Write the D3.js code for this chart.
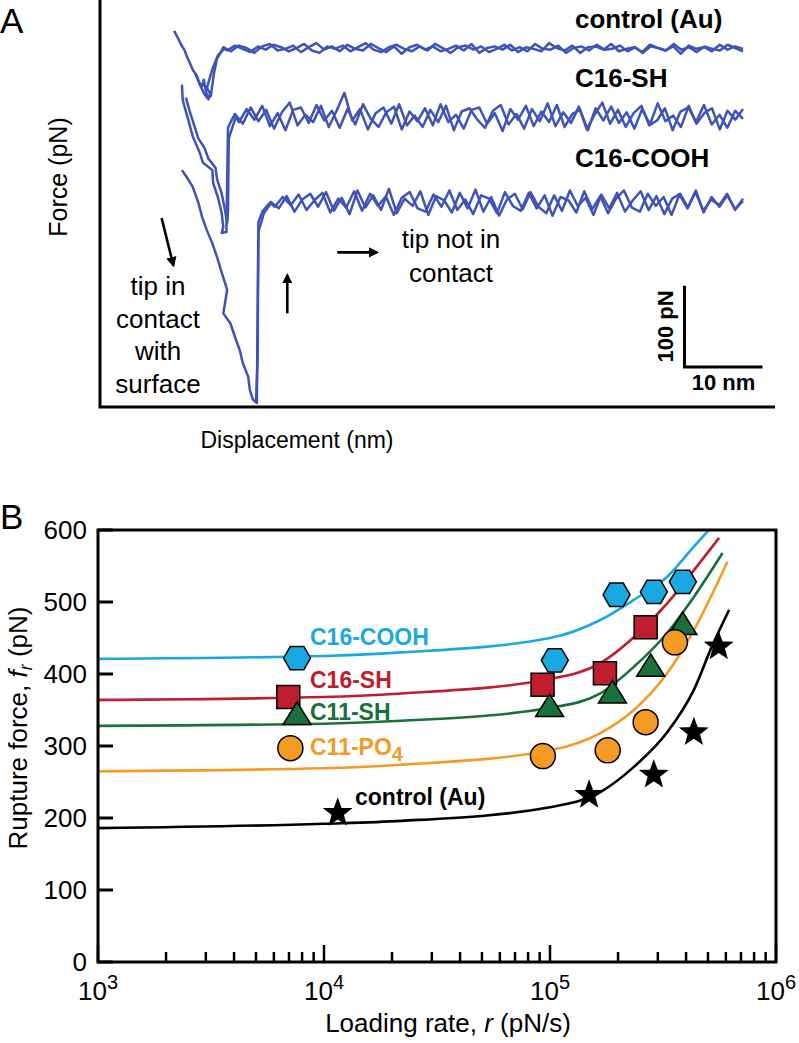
<!DOCTYPE html>
<html lang="en">
<head>
<meta charset="UTF-8">
<title>AFM force curves and rupture force vs loading rate</title>
<script src="https://d3js.org/d3.v7.min.js"></script>
<style>
  body { margin: 0; background: #fff; }
  svg { display: block; font-family: "Liberation Sans", Arial, sans-serif; }
  .trace { fill: none; stroke: #3f53b8; stroke-width: 2.5px; stroke-linejoin: round; }
  .axis-line { fill: none; stroke: #000; stroke-width: 3px; }
  .fit { fill: none; stroke-width: 2.6px; }
  .mark { stroke: #000; stroke-width: 1.5px; }
</style>
</head>
<body>
<svg width="799" height="1043"></svg>
<script>
// ---------- panel A data (displacement nm, stacked force pN) ----------
const flatEnd = 82.4;

const controlBase = 440;
const controlSlopeA = [[9.5,462],[10.0,453],[10.4,445],[10.8,439],[11.2,429],[11.5,423],[11.9,414],[12.4,407],[12.7,399],[13.1,394],[13.3,402],[13.6,387],[13.8,380],[14.2,382],[14.6,410],[15.0,428],[15.5,436]];
const controlSlopeB = [[12.2,410],[12.8,396],[13.4,384],[13.9,378],[14.1,385],[13.7,392],[14.4,415],[15.1,432],[15.9,440]];
const controlNoiseA = [2,-3,4,1,-5,3,6,-2,0,4,-4,2,7,-1,3,-3,5,0,-2,6,1,-4,3,-6,2,5,-1,3,-3,0,4,-2,6,-5,1,3,-1,5,-4,2,0,-3,7,1,-2,4,-5,2,3,-1,6,-3,0,2,-4,5,1,-2,3,-6,4,0,2,-3,5,-1,3,0];
const controlNoiseB = [-2,4,0,-4,3,-1,5,2,-3,1,6,-2,-5,3,0,4,-3,2,7,-1,-4,2,5,0,-3,3,-2,6,1,-5,2,4,-1,3,-4,0,5,-2,2,-3,6,0,-1,4,-5,1,3,-2,5,-1,0,4,-3,2,-5,3,1,-2,6,-1,2,-4,3,0,-2,5,1,-3];

const sh16Base = 356;
const sh16SlopeA = [[10.5,396],[10.6,377],[11.3,353],[11.9,332],[12.8,312],[13.2,300],[14.4,291],[14.5,275],[15.1,258],[15.6,238],[15.8,221],[15.6,214],[16.2,215],[16.4,343],[16.9,353]];
const sh16SlopeB = [[11.0,380],[11.6,360],[12.1,345],[12.6,330],[13.4,318],[13.9,305],[14.8,294],[15.0,280],[15.6,262],[16.0,243],[16.3,226],[16.4,240],[16.5,330],[17.4,356]];
const sh16NoiseA = [4,-8,12,-5,9,-14,6,18,-10,3,-6,14,-12,8,30,-4,10,-15,5,12,-8,16,-10,2,-12,9,-6,14,-16,7,11,-3,-13,8,15,-9,4,-14,10,-5,17,-11,6,-7,13,-15,3,18,-8,9,-12,5,14,-10,-4,11,-16,7,12,-6,15,-9,3,-13,8,-2];
const sh16NoiseB = [-6,10,-3,14,-11,5,-16,9,12,-7,15,-4,8,-13,10,-9,16,-2,-12,6,13,-15,7,-5,11,-10,16,-6,3,-14,9,12,-8,5,-17,10,-3,14,-11,7,-6,15,-12,4,9,-16,11,-4,13,-7,6,-14,10,-9,17,-5,2,-12,14,-8,5,11,-15,8,-3,10];

const coohBase = 250;
const coohSlopeA = [[10.5,291],[11.2,281],[11.9,270],[12.6,251],[13.1,233],[13.7,217],[14.4,201],[15.0,184],[15.6,165],[16.3,144],[15.8,115],[16.7,103],[17.3,86],[17.9,70],[18.3,54],[19.0,37],[19.2,21],[19.6,9],[20.1,5],[20.3,227],[20.8,240],[21.5,248]];
const coohSlopeB = [[20.0,8],[20.2,60],[20.3,215],[21.0,238],[21.9,250]];
const coohNoiseA = [2,-6,9,-10,5,12,-4,14,-9,7,-13,16,-5,10,-8,18,-12,6,-3,15,-14,9,4,-11,13,-6,17,-10,8,-15,5,12,-7,14,-4,-12,10,-9,16,-3,7,-14,11,-6,13,-10,4,15,-8,9,-13,6,12,-5,16,-11,8,-4,10,-7,3];
const coohNoiseB = [-4,8,-2,11,-8,4,13,-11,6,-5,15,-9,12,-3,9,-14,7,14,-6,-10,11,-4,16,-8,5,-13,10,6,-12,14,-3,-9,13,-6,10,-15,8,4,-11,15,-7,9,-12,6,16,-5,-10,12,-3,8,-14,11,-6,14,-9,5,-2,12,-8,6];

const traceLabels = ["control (Au)", "C16-SH", "C16-COOH"];

// annotation arrows, [from, to] in nm / pN
const arrows = [
  [[7.9, 232], [9.4, 174]],
  [[24.0, 115], [24.0, 162]],
  [[30.4, 190], [35.5, 190]]
];

// ---------- panel B data (loading rate pN/s, rupture force pN) ----------
const seriesNames = ["C16-COOH", "C16-SH", "C11-SH", "C11-PO4", "control (Au)"];
const seriesColors = ["#19a9e1", "#bf1e2e", "#18703c", "#f49a25", "#000000"];
const seriesShapes = ["hexagon", "square", "triangle", "circle", "star"];

const coohPoints = [[7.6e3,422],[1.05e5,419],[1.97e5,510],[2.88e5,514],[3.87e5,528]];
const sh16Points = [[6.95e3,368],[9.27e4,385],[1.75e5,401],[2.65e5,465]];
const sh11Points = [[7.6e3,343],[9.96e4,354],[1.89e5,373],[2.79e5,410],[3.87e5,468]];
const po4Points  = [[7.1e3,297],[9.3e4,286],[1.8e5,294],[2.65e5,333],[3.57e5,444]];
const ctrlPoints = [[1.15e4,207],[1.49e5,232],[2.88e5,260],[4.33e5,319],[5.58e5,438]];

const coohFit = [[1e3,421],[1e4,425],[2.2e4,430],[1e5,450],[1.67e5,475],[2.35e5,503],[3.3e5,535],[4.33e5,577],[5.05e5,600]];
const sh16Fit = [[1e3,364],[1e4,368],[2.2e4,373],[1e5,393],[1.67e5,415],[2.35e5,451],[3.3e5,498],[4.33e5,544],[5.6e5,589]];
const sh11Fit = [[1e3,328],[1e4,331],[2.2e4,335],[1e5,353],[1.67e5,373],[2.35e5,410],[3.3e5,457],[4.33e5,507],[5.8e5,568]];
const po4Fit  = [[1e3,265],[1e4,269],[2.2e4,274],[1e5,294],[1.67e5,318],[2.35e5,350],[3.3e5,401],[4.33e5,461],[6.1e5,556]];
const ctrlFit = [[1e3,186],[1e4,192],[2.2e4,196],[1e5,215],[1.67e5,236],[2.35e5,271],[3.3e5,319],[4.33e5,378],[5.2e5,438],[6.2e5,489]];

const allPoints = [coohPoints, sh16Points, sh11Points, po4Points, ctrlPoints];
const allFits = [coohFit, sh16Fit, sh11Fit, po4Fit, ctrlFit];

const yTicks = [0, 100, 200, 300, 400, 500, 600];

const svg = d3.select("svg");

// ================= panel A =================
const xA = d3.scaleLinear().domain([0, 86.5]).range([100, 775]);
const yA = d3.scaleLinear().domain([0, 500]).range([407, 0]);

function flatPart(noise, start, base) {
  const xs = d3.scaleLinear().domain([0, noise.length - 1]).range([start, flatEnd]);
  return noise.map((n, i) => [xs(i), base + n]);
}

const traces = [
  controlSlopeA.concat(flatPart(controlNoiseA, 15.8, controlBase)),
  controlSlopeB.concat(flatPart(controlNoiseB, 16.3, controlBase)),
  sh16SlopeA.concat(flatPart(sh16NoiseA, 17.3, sh16Base)),
  sh16SlopeB.concat(flatPart(sh16NoiseB, 17.8, sh16Base)),
  coohSlopeA.concat(flatPart(coohNoiseA, 21.9, coohBase)),
  coohSlopeB.concat(flatPart(coohNoiseB, 22.4, coohBase))
];

const lineA = d3.line().x(d => xA(d[0])).y(d => yA(d[1]));
svg.append("g").selectAll("path")
  .data(traces)
  .join("path")
  .attr("class", "trace")
  .attr("d", lineA);

svg.append("path").attr("class", "axis-line")
  .attr("d", `M${xA(0)},0 V${yA(0)} H${xA(86.5)}`);

svg.append("text").attr("x", 0).attr("y", 33)
  .attr("font-size", 35).text("A");

svg.append("text")
  .attr("transform", `translate(67,177) rotate(-90)`)
  .attr("text-anchor", "middle").attr("font-size", 25)
  .text("Force (pN)");

svg.append("text").attr("x", 297).attr("y", 448)
  .attr("text-anchor", "middle").attr("font-size", 23)
  .text("Displacement (nm)");

const labY = [28, 87, 167];
svg.append("g").selectAll("text")
  .data(traceLabels)
  .join("text")
  .attr("x", 575).attr("y", (d, i) => labY[i])
  .attr("font-size", 26).attr("font-weight", "bold")
  .text(d => d);

const leftNote = ["tip in", "contact", "with", "surface"];
svg.append("g").selectAll("text")
  .data(leftNote)
  .join("text")
  .attr("x", 158).attr("y", (d, i) => 295 + i * 32.5)
  .attr("text-anchor", "middle").attr("font-size", 26)
  .text(d => d);

const rightNote = ["tip not in", "contact"];
svg.append("g").selectAll("text")
  .data(rightNote)
  .join("text")
  .attr("x", 451).attr("y", (d, i) => 248 + i * 34)
  .attr("text-anchor", "middle").attr("font-size", 26)
  .text(d => d);

svg.append("defs").append("marker")
  .attr("id", "head").attr("viewBox", "0 0 10 10")
  .attr("refX", 8).attr("refY", 5)
  .attr("markerWidth", 4).attr("markerHeight", 4)
  .attr("markerUnits", "strokeWidth")
  .attr("orient", "auto")
  .append("path").attr("d", "M0,0 L10,5 L0,10 z").attr("fill", "#000");

svg.append("g").selectAll("line")
  .data(arrows)
  .join("line")
  .attr("x1", d => xA(d[0][0])).attr("y1", d => yA(d[0][1]))
  .attr("x2", d => xA(d[1][0])).attr("y2", d => yA(d[1][1]))
  .attr("stroke", "#000").attr("stroke-width", 2.6)
  .attr("marker-end", "url(#head)");

// scale bar: 10 nm x 100 pN
const sbX = 74.9, sbY = 49;
svg.append("path").attr("fill", "none").attr("stroke", "#000").attr("stroke-width", 3)
  .attr("d", `M${xA(sbX)},${yA(sbY + 100)} V${yA(sbY)} H${xA(sbX + 10)}`);
svg.append("text")
  .attr("transform", `translate(${xA(sbX) - 11},${(yA(sbY) + yA(sbY + 100)) / 2}) rotate(-90)`)
  .attr("text-anchor", "middle").attr("font-size", 22).attr("font-weight", "bold")
  .text("100 pN");
svg.append("text")
  .attr("x", (xA(sbX) + xA(sbX + 10)) / 2).attr("y", 390)
  .attr("text-anchor", "middle").attr("font-size", 22).attr("font-weight", "bold")
  .text("10 nm");

// ================= panel B =================
const xB = d3.scaleLog().domain([1e3, 1e6]).range([98, 776]);
const yB = d3.scaleLinear().domain([0, 600]).range([962, 530]);

const lineB = d3.line().x(d => xB(d[0])).y(d => yB(d[1])).curve(d3.curveMonotoneX);
svg.append("g").selectAll("path")
  .data(allFits)
  .join("path")
  .attr("class", "fit")
  .attr("stroke", (d, i) => seriesColors[i])
  .attr("d", lineB);

// frame
svg.append("rect")
  .attr("x", xB(1e3)).attr("y", yB(600))
  .attr("width", xB(1e6) - xB(1e3)).attr("height", yB(0) - yB(600))
  .attr("class", "axis-line");

// x ticks (inward)
const xTickVals = xB.ticks();
const isDecade = d => Math.abs(Math.log10(d) - Math.round(Math.log10(d))) < 1e-9;
svg.append("g").selectAll("line")
  .data(xTickVals)
  .join("line")
  .attr("x1", d => xB(d)).attr("x2", d => xB(d))
  .attr("y1", yB(0))
  .attr("y2", d => yB(0) - (isDecade(d) ? 17 : 10))
  .attr("stroke", "#000").attr("stroke-width", 2.5);

const decades = xTickVals.filter(isDecade);
const xl = svg.append("g").selectAll("text")
  .data(decades)
  .join("text")
  .attr("x", d => xB(d)).attr("y", 1000)
  .attr("text-anchor", "middle").attr("font-size", 26);
xl.append("tspan").text("10");
xl.append("tspan").attr("dy", -11).attr("font-size", 20)
  .text(d => Math.round(Math.log10(d)));

// y ticks (inward)
svg.append("g").selectAll("line")
  .data(yTicks)
  .join("line")
  .attr("x1", xB(1e3)).attr("x2", xB(1e3) + 15)
  .attr("y1", d => yB(d)).attr("y2", d => yB(d))
  .attr("stroke", "#000").attr("stroke-width", 3);

svg.append("g").selectAll("text")
  .data(yTicks)
  .join("text")
  .attr("x", 87).attr("y", d => yB(d)).attr("dy", "0.36em")
  .attr("text-anchor", "end").attr("font-size", 26)
  .text(d => d);

svg.append("text").attr("x", 0).attr("y", 529)
  .attr("font-size", 35).text("B");

const yTitle = svg.append("text")
  .attr("transform", "translate(27,728) rotate(-90)")
  .attr("text-anchor", "middle").attr("font-size", 26);
yTitle.append("tspan").text("Rupture force, ");
yTitle.append("tspan").attr("font-style", "italic").text("f");
yTitle.append("tspan").attr("font-style", "italic").attr("font-size", 18).attr("dy", 5).text("r");
yTitle.append("tspan").attr("dy", -5).text(" (pN)");

const xTitle = svg.append("text")
  .attr("x", 448).attr("y", 1032)
  .attr("text-anchor", "middle").attr("font-size", 26);
xTitle.append("tspan").text("Loading rate, ");
xTitle.append("tspan").attr("font-style", "italic").text("r");
xTitle.append("tspan").text(" (pN/s)");

// series labels
const nameX = [310, 310, 310, 310, 355];
const nameY = [645, 688, 720, 755, 805];
const nl = svg.append("g").selectAll("text")
  .data(seriesNames)
  .join("text")
  .attr("x", (d, i) => nameX[i]).attr("y", (d, i) => nameY[i])
  .attr("fill", (d, i) => seriesColors[i])
  .attr("font-size", 23).attr("font-weight", "bold");
nl.append("tspan").text(d => d === "C11-PO4" ? "C11-PO" : d);
nl.filter(d => d === "C11-PO4").append("tspan")
  .attr("dy", 6).attr("font-size", 20).text("4");

// markers
function shapePath(type) {
  if (type === "hexagon") {
    const r = 13.5;
    return d3.range(6).map(k => {
      const a = k * Math.PI / 3;
      return [r * Math.cos(a), r * Math.sin(a)];
    });
  }
  if (type === "square") return [[-11.5,-11.5],[11.5,-11.5],[11.5,11.5],[-11.5,11.5]];
  if (type === "triangle") return [[0,-13],[14,9.5],[-14,9.5]];
  if (type === "star") {
    return d3.range(10).map(k => {
      const a = -Math.PI / 2 + k * Math.PI / 5;
      const r = k % 2 ? 5.6 : 13.5;
      return [r * Math.cos(a), r * Math.sin(a)];
    });
  }
  return null;
}

allPoints.forEach((pts, i) => {
  const g = svg.append("g");
  const shape = seriesShapes[i];
  if (shape === "circle") {
    g.selectAll("circle").data(pts).join("circle")
      .attr("class", "mark")
      .attr("cx", d => xB(d[0])).attr("cy", d => yB(d[1])).attr("r", 12.5)
      .attr("fill", seriesColors[i]);
  } else {
    const poly = shapePath(shape);
    g.selectAll("path").data(pts).join("path")
      .attr("class", "mark")
      .attr("transform", d => `translate(${xB(d[0])},${yB(d[1])})`)
      .attr("d", "M" + poly.join("L") + "Z")
      .attr("fill", seriesColors[i])
      .attr("stroke-width", shape === "star" ? 0 : 1.5);
  }
});
</script>
</body>
</html>
